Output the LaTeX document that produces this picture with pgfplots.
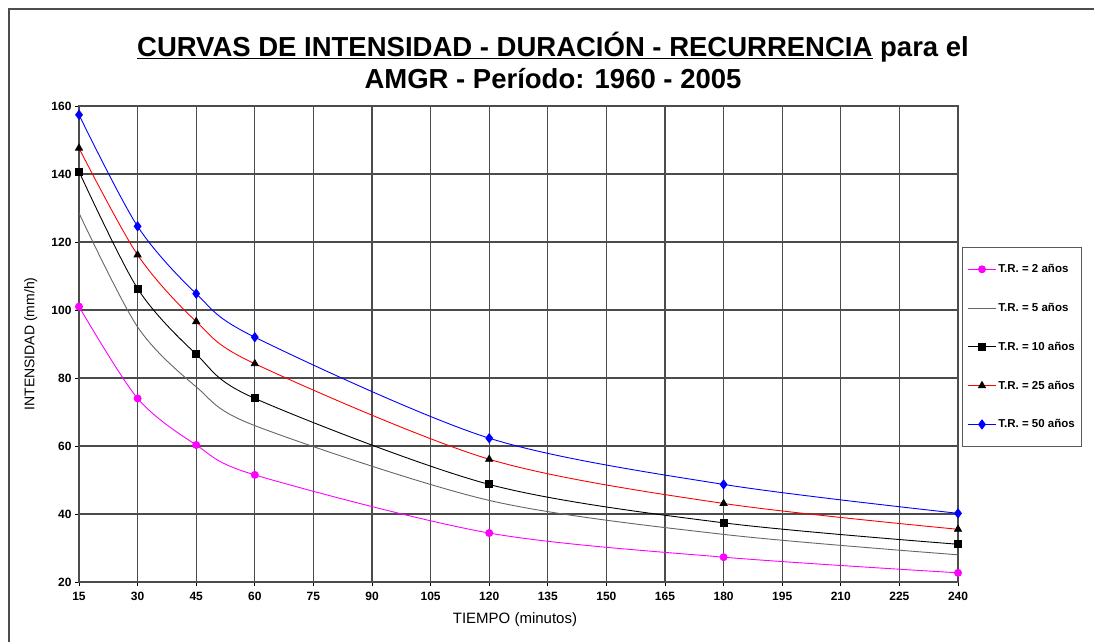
\documentclass[border=0pt]{standalone}
\usepackage{pgfplots}
\pgfplotsset{compat=1.18}
\usepackage{fontspec}
\setmainfont{Liberation Sans}
\definecolor{mag}{RGB}{255,0,255}
\definecolor{blu}{RGB}{0,0,255}
\definecolor{rd}{RGB}{255,0,0}
\begin{document}
\begin{tikzpicture}
\useasboundingbox (0pt,0pt) rectangle (1094pt,642pt);
\fill[white] (0pt,0pt) rectangle (1094pt,642pt);
\draw[gray!60!black, line width=2pt] (9pt,0pt) -- (9pt,633pt) -- (1094pt,633pt);
\node[font=\bfseries\fontsize{27.5}{30}\selectfont] at (553pt,595pt) {\underline{CURVAS DE INTENSIDAD - DURACIÓN - RECURRENCIA} para el};
\node[font=\bfseries\fontsize{27.5}{30}\selectfont] at (553pt,563pt) {AMGR - Período: 1960 - 2005};
\begin{axis}[
  at={(79pt,60pt)}, anchor=south west, scale only axis,
  width=879pt, height=476pt,
  xmin=15, xmax=240, ymin=20, ymax=160,
  xtick={15,30,...,240}, ytick={20,40,...,160},
  xtick pos=bottom, ytick pos=left,
  grid=major,
  major grid style={gray!60!black, line width=1.1pt},
  axis line style={gray!60!black, line width=1.1pt},
  tick style={black, line width=0.8pt},
  tick align=outside, major tick length=4pt,
  /pgf/number format/assume math mode=true,
  ticklabel style={font=\bfseries\fontsize{12}{13}\selectfont},
  xticklabel style={yshift=-3pt},
  xlabel={TIEMPO (minutos)},
  ylabel={INTENSIDAD (mm/h)},
  xlabel style={font=\fontsize{15}{16}\selectfont, at={(axis description cs:0.496,-0.08)}, anchor=center},
  ylabel style={font=\fontsize{14}{15}\selectfont, at={(axis description cs:-0.055,0.5)}, anchor=center},
  legend style={at={(axis description cs:1.0046,0.704)}, anchor=north west,
    font=\bfseries\fontsize{11.5}{12}\selectfont, draw=gray!70!black, line width=1pt,
    row sep=25pt, inner xsep=5pt, inner ysep=15pt},
  legend cell align=left,
  legend image code/.code={\draw[mark repeat=2,mark phase=2,#1] plot coordinates {(0pt,0pt) (14pt,0pt) (28pt,0pt)};},
]
\addplot[mag, line width=0.9pt, smooth, mark=*, mark size=3.5pt, mark options={fill=mag}]
 coordinates {(15,101)(30,74)(45,60.3)(60,51.5)(120,34.4)(180,27.3)(240,22.7)};
\addlegendentry{T.R. = 2 años}
\addplot[gray!80!black, line width=0.9pt, smooth]
 coordinates {(15,128.5)(30,95)(45,77.4)(60,66)(120,44)(180,34)(240,28)};
\addlegendentry{T.R. = 5 años}
\addplot[black, line width=0.9pt, smooth, mark=square*, mark size=3.5pt, mark options={fill=black}]
 coordinates {(15,140.7)(30,106.3)(45,87)(60,74)(120,48.7)(180,37.4)(240,31.1)};
\addlegendentry{T.R. = 10 años}
\addplot[rd, line width=0.9pt, smooth, mark=triangle*, mark size=4pt, mark options={fill=black, draw=black}]
 coordinates {(15,147.6)(30,116.2)(45,96.6)(60,84.2)(120,56.1)(180,43.1)(240,35.5)};
\addlegendentry{T.R. = 25 años}
\addplot[blu, line width=0.9pt, smooth, mark=diamond*, mark size=4.5pt, mark options={fill=blu}]
 coordinates {(15,157.4)(30,124.6)(45,104.8)(60,92)(120,62.3)(180,48.7)(240,40.2)};
\addlegendentry{T.R. = 50 años}
\end{axis}
\end{tikzpicture}
\end{document}
